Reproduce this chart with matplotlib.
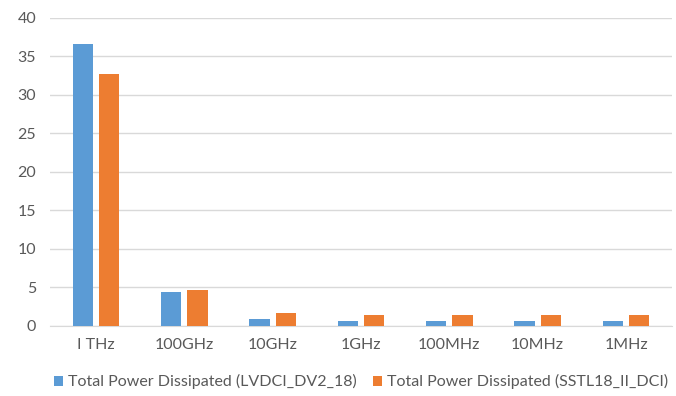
import matplotlib
matplotlib.use("Agg")
import matplotlib.pyplot as plt
import numpy as np

plt.rcParams['font.family'] = ['Lato', 'DejaVu Sans']

categories = ["I THz", "100GHz", "10GHz", "1GHz", "100MHz", "10MHz", "1MHz"]
lvdci = [36.6, 4.4, 0.9, 0.6, 0.6, 0.6, 0.6]
sstl = [32.7, 4.7, 1.7, 1.4, 1.4, 1.4, 1.4]
series_names = ["Total Power Dissipated (LVDCI_DV2_18)",
                "Total Power Dissipated (SSTL18_II_DCI)"]
yticks = [0, 5, 10, 15, 20, 25, 30, 35, 40]

blue = "#5b9bd5"
orange = "#ed7d31"
text_col = "#595959"
grid_col = "#d9d9d9"

fig = plt.figure(figsize=(6.76, 3.96), dpi=100)
ax = fig.add_axes([0.074, 0.177, 0.92, 0.778])

x = np.arange(len(categories))
w = 0.23
gap = 0.07
ax.bar(x - (w + gap) / 2, lvdci, w, color=blue, label=series_names[0], zorder=3)
ax.bar(x + (w + gap) / 2, sstl, w, color=orange, label=series_names[1], zorder=3)

ax.set_ylim(0, 40)
ax.set_xlim(-0.52, len(categories) - 0.48)
ax.set_yticks(yticks)
ax.set_xticks(x)
ax.set_xticklabels(categories)
ax.yaxis.grid(True, color=grid_col, linewidth=1, zorder=0)
for s in ["top", "right", "left"]:
    ax.spines[s].set_visible(False)
ax.spines["bottom"].set_color(grid_col)
ax.tick_params(axis="both", length=0, colors=text_col, labelsize=11.5)
ax.tick_params(axis="x", pad=9)
ax.tick_params(axis="y", pad=10)

ax.legend(loc="upper center", bbox_to_anchor=(0.5, -0.11), ncol=2, frameon=False,
          fontsize=11.5, labelcolor=text_col, handlelength=0.6, handleheight=0.6,
          handletextpad=0.3, columnspacing=1.0)

fig.savefig("out.png", dpi=100)
